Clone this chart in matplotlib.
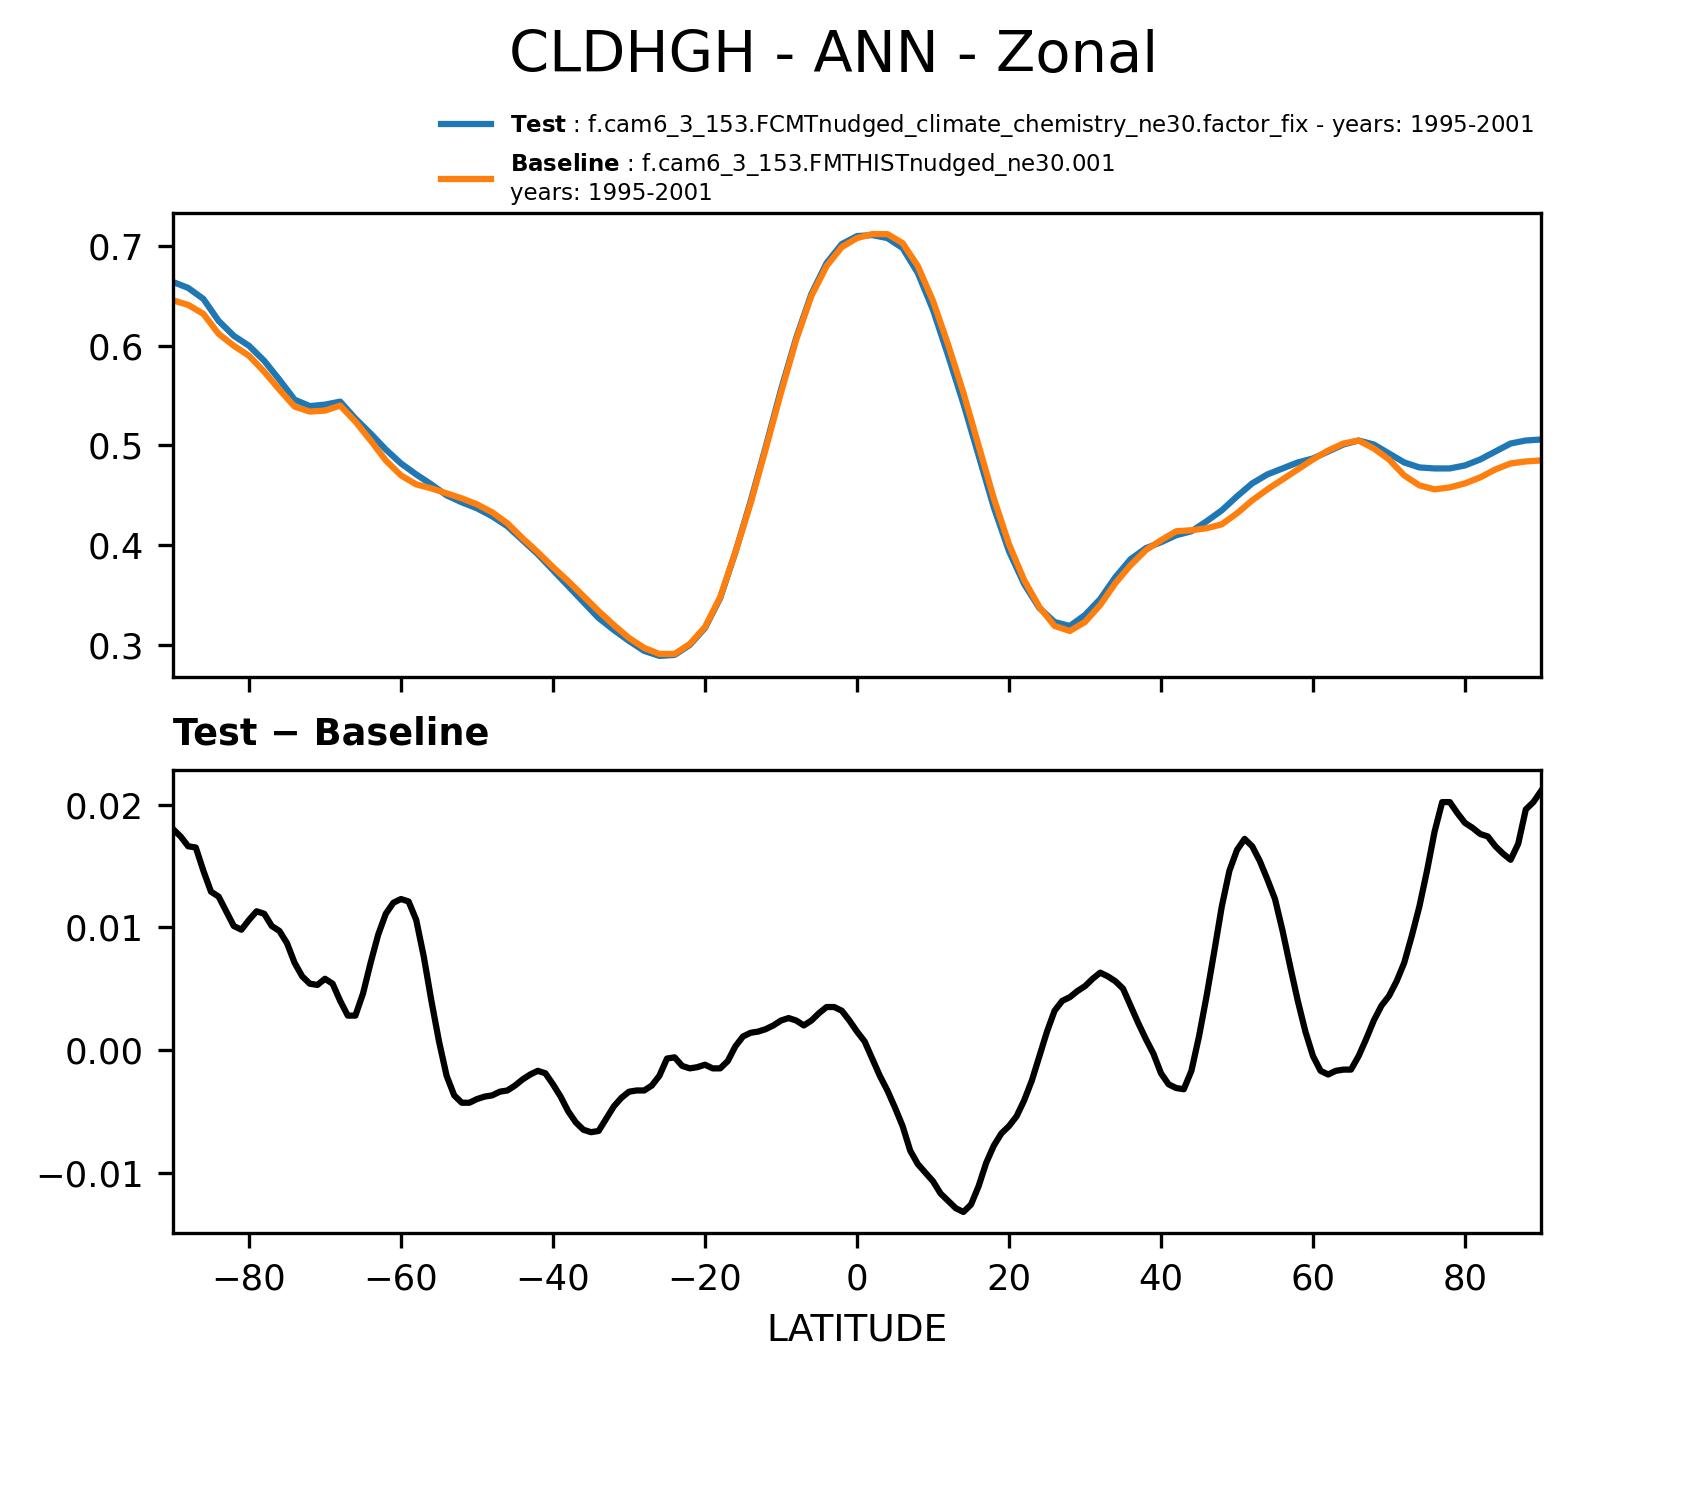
import numpy as np
import matplotlib
matplotlib.use("Agg")
import matplotlib.pyplot as plt

# ---------------- data ----------------
lat = list(range(-90, 91, 2))

test = [0.664, 0.658, 0.647, 0.625, 0.610, 0.600, 0.585, 0.566, 0.546, 0.5395,
        0.541, 0.544, 0.527, 0.512, 0.496, 0.482, 0.471, 0.461, 0.450, 0.443,
        0.437, 0.429, 0.419, 0.405, 0.391, 0.375, 0.359, 0.343, 0.327, 0.315,
        0.304, 0.294, 0.289, 0.290, 0.300, 0.317, 0.347, 0.393, 0.444, 0.499,
        0.556, 0.608, 0.652, 0.683, 0.702, 0.710, 0.711, 0.708, 0.698, 0.673,
        0.636, 0.590, 0.542, 0.490, 0.438, 0.394, 0.361, 0.337, 0.323, 0.319,
        0.330, 0.346, 0.368, 0.386, 0.397, 0.403, 0.410, 0.414, 0.424, 0.435,
        0.449, 0.462, 0.471, 0.477, 0.483, 0.487, 0.494, 0.501, 0.505, 0.501,
        0.492, 0.483, 0.478, 0.477, 0.477, 0.480, 0.486, 0.494, 0.502, 0.505,
        0.506]

baseline = [0.6455, 0.641, 0.632, 0.612, 0.600, 0.590, 0.574, 0.556, 0.539, 0.534,
            0.535, 0.540, 0.524, 0.505, 0.485, 0.470, 0.461, 0.457, 0.452, 0.447,
            0.441, 0.433, 0.422, 0.407, 0.393, 0.378, 0.364, 0.349, 0.334, 0.320,
            0.307, 0.297, 0.291, 0.291, 0.301, 0.318, 0.348, 0.393, 0.442, 0.497,
            0.553, 0.606, 0.650, 0.680, 0.699, 0.708, 0.712, 0.712, 0.703, 0.680,
            0.645, 0.601, 0.553, 0.500, 0.447, 0.401, 0.365, 0.338, 0.319, 0.314,
            0.323, 0.340, 0.362, 0.380, 0.395, 0.405, 0.414, 0.415, 0.417, 0.421,
            0.432, 0.445, 0.456, 0.466, 0.476, 0.486, 0.495, 0.502, 0.505, 0.497,
            0.486, 0.470, 0.460, 0.456, 0.458, 0.462, 0.468, 0.476, 0.482, 0.484,
            0.485]

diff_lat = list(range(-90, 91, 1))
diff = [0.0180, 0.0174, 0.0166, 0.0165, 0.0146, 0.0129, 0.0125, 0.0113, 0.0101, 0.0098,
        0.0106, 0.0113, 0.0111, 0.0101, 0.0097, 0.0087, 0.0071, 0.0060, 0.0054, 0.0053,
        0.0058, 0.0054, 0.0040, 0.0028, 0.0028, 0.0046, 0.0071, 0.0094, 0.0111, 0.0120,
        0.0123, 0.0121, 0.0106, 0.0076, 0.0040, 0.0007, -0.0021, -0.0037, -0.0043, -0.0043,
        -0.0040, -0.0038, -0.0037, -0.0034, -0.0033, -0.0029, -0.0024, -0.0020, -0.0017, -0.0019,
        -0.0028, -0.0038, -0.0050, -0.0059, -0.0065, -0.0067, -0.0066, -0.0056, -0.0046, -0.0039,
        -0.0034, -0.0033, -0.0033, -0.0029, -0.0021, -0.0007, -0.0006, -0.0013, -0.0015, -0.0014,
        -0.0012, -0.0015, -0.0015, -0.0009, 0.0003, 0.0011, 0.0014, 0.0015, 0.0017, 0.0020,
        0.0024, 0.0026, 0.0024, 0.0020, 0.0024, 0.0030, 0.0035, 0.0035, 0.0032, 0.0024,
        0.0015, 0.0007, -0.0007, -0.0021, -0.0033, -0.0047, -0.0062, -0.0082, -0.0093, -0.0100,
        -0.0107, -0.0117, -0.0123, -0.0129, -0.0132, -0.0126, -0.0111, -0.0092, -0.0078, -0.0068,
        -0.0062, -0.0054, -0.0041, -0.0025, -0.0005, 0.0015, 0.0032, 0.0040, 0.0043, 0.0048,
        0.0052, 0.0058, 0.0063, 0.0060, 0.0056, 0.0050, 0.0036, 0.0022, 0.0009, -0.0003,
        -0.0019, -0.0028, -0.0031, -0.0032, -0.0017, 0.0011, 0.0044, 0.0080, 0.0117, 0.0146,
        0.0163, 0.0172, 0.0166, 0.0154, 0.0139, 0.0123, 0.0097, 0.0068, 0.0040, 0.0015,
        -0.0005, -0.0017, -0.0020, -0.0017, -0.0016, -0.0016, -0.0005, 0.0009, 0.0024, 0.0036,
        0.0044, 0.0056, 0.0071, 0.0093, 0.0117, 0.0146, 0.0178, 0.0202, 0.0202, 0.0193,
        0.0185, 0.0181, 0.0176, 0.0174, 0.0166, 0.0160, 0.0155, 0.0168, 0.0196, 0.0202,
        0.0211]

xticks = [-80, -60, -40, -20, 0, 20, 40, 60, 80]
title = "CLDHGH - ANN - Zonal"
test_label = r"$\bf{Test}$ : f.cam6_3_153.FCMTnudged_climate_chemistry_ne30.factor_fix - years: 1995-2001"
base_label = r"$\bf{Baseline}$ : f.cam6_3_153.FMTHISTnudged_ne30.001" + "\nyears: 1995-2001"

# ---------------- figure ----------------
W, H = 1704, 1496
dpi = 300
fig = plt.figure(figsize=(W / dpi, H / dpi), dpi=dpi)

def fx(px):
    return px / W

def fy(py):
    return 1 - py / H

ax1 = fig.add_axes([fx(173), fy(677), fx(1541) - fx(173), fy(213) - fy(677)])
ax2 = fig.add_axes([fx(173), fy(1233), fx(1541) - fx(173), fy(770) - fy(1233)])

tick_fs = 8.5
ax1.plot(lat, test, color="#1f77b4", lw=1.5, label=test_label)
ax1.plot(lat, baseline, color="#ff7f0e", lw=1.5, label=base_label)
ax1.set_xlim(-90, 90)
ax1.set_xticks(xticks)
ax1.tick_params(labelbottom=False, labelsize=tick_fs)

ax2.plot(diff_lat, diff, color="black", lw=1.5)
ax2.set_xlim(-90, 90)
ax2.set_xticks(xticks)
ax2.tick_params(labelsize=tick_fs)
ax2.set_xlabel("LATITUDE", fontsize=9)
ax2.set_title("Test \u2212 Baseline", loc="left", fontweight="bold", fontsize=8.8, pad=6)

fig.text(fx(834), fy(72), title, ha="center", va="baseline", fontsize=13.8)

leg = ax1.legend(loc="lower left", bbox_to_anchor=(fx(441), fy(205)),
                 bbox_transform=fig.transFigure, frameon=False, fontsize=5.5,
                 borderpad=0, borderaxespad=0, handlelength=2.2, handletextpad=0.8,
                 labelspacing=0.55)

fig.savefig("out.png", dpi=dpi)
